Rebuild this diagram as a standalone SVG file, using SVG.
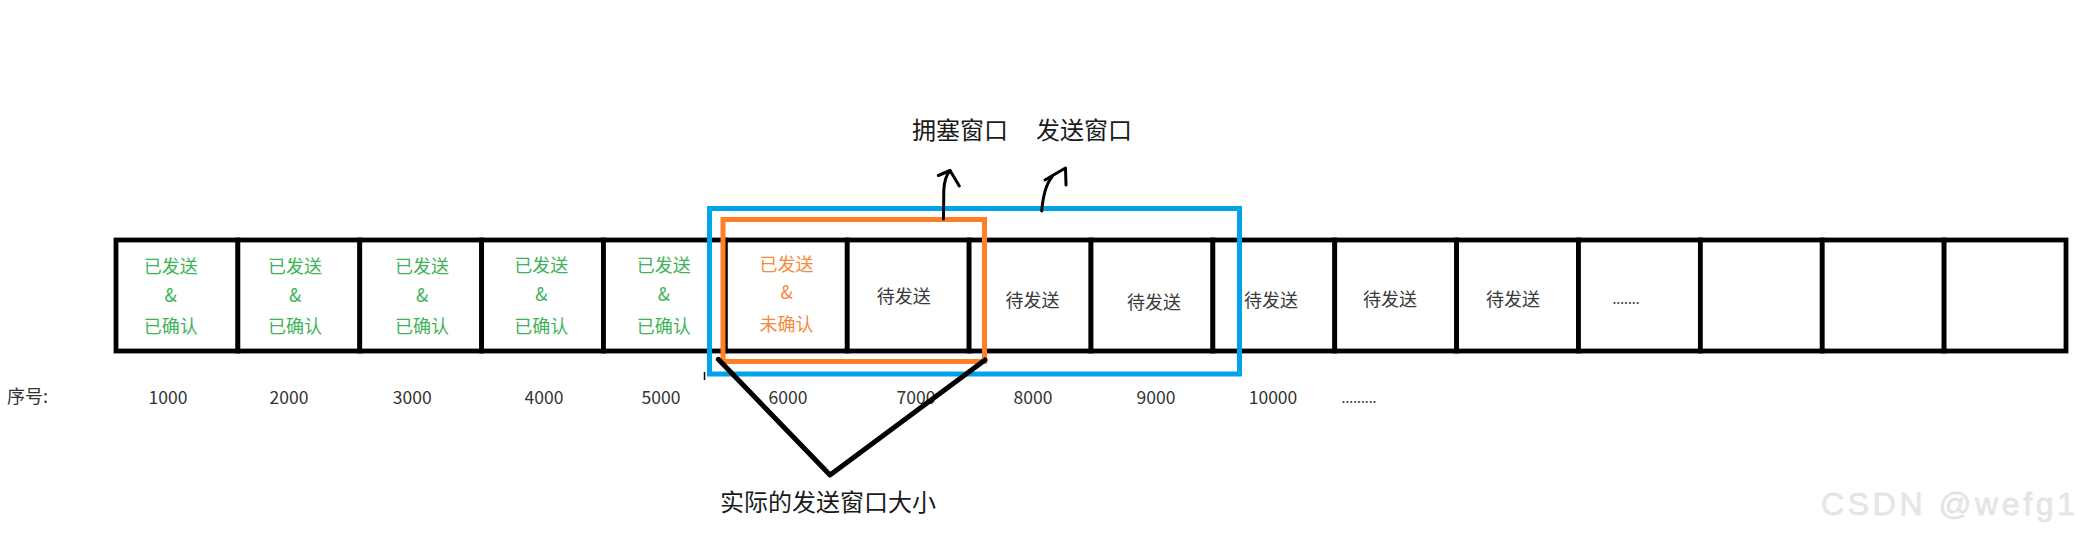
<svg xmlns="http://www.w3.org/2000/svg" width="2078" height="540" viewBox="0 0 2078 540">
<style>
.t{font-family:"Noto Sans CJK SC","Noto Sans",sans-serif;text-anchor:middle}
.g{fill:#3db45a;font-size:18px}
.o{fill:#f58a3c;font-size:18px}
.k{fill:#3a3a3a;font-size:18px}
.n{fill:#333;font-size:17.5px}
.d{fill:#333;font-size:14px}
.lb{fill:#1a1a1a;font-size:24px}
.cell{fill:#fff;stroke:#000;stroke-width:4.8}
.ink{fill:none;stroke:#000;stroke-linecap:round;stroke-linejoin:round}
.wm{font-family:"Liberation Sans",Arial,sans-serif;font-size:32px;fill:#e8e8e8;stroke:#d2d2d2;stroke-width:0.35}
</style>
<rect width="2078" height="540" fill="#fff"/>

<g id="cells">
<g id="cell-1000"><rect class="cell" x="116" y="240" width="121.875" height="111"/>
<text class="t g"><tspan x="170.7" y="273">已发送</tspan><tspan x="170.7" y="302">&amp;</tspan><tspan x="170.7" y="333">已确认</tspan></text></g>
<g id="cell-2000"><rect class="cell" x="237.875" y="240" width="121.875" height="111"/>
<text class="t g"><tspan x="295" y="273">已发送</tspan><tspan x="295" y="302">&amp;</tspan><tspan x="295" y="333">已确认</tspan></text></g>
<g id="cell-3000"><rect class="cell" x="359.75" y="240" width="121.875" height="111"/>
<text class="t g"><tspan x="422" y="273">已发送</tspan><tspan x="422" y="302">&amp;</tspan><tspan x="422" y="333">已确认</tspan></text></g>
<g id="cell-4000"><rect class="cell" x="481.625" y="240" width="121.875" height="111"/>
<text class="t g"><tspan x="541.3" y="272">已发送</tspan><tspan x="541.3" y="301">&amp;</tspan><tspan x="541.3" y="333">已确认</tspan></text></g>
<g id="cell-5000"><rect class="cell" x="603.5" y="240" width="121.875" height="111"/>
<text class="t g"><tspan x="663.8" y="272">已发送</tspan><tspan x="663.8" y="301">&amp;</tspan><tspan x="663.8" y="333">已确认</tspan></text></g>
<g id="cell-6000"><rect class="cell" x="725.375" y="240" width="121.875" height="111"/>
<text class="t o"><tspan x="786.5" y="270.5">已发送</tspan><tspan x="786.5" y="299">&amp;</tspan><tspan x="786.5" y="330.5">未确认</tspan></text></g>
<g id="cell-7000"><rect class="cell" x="847.25" y="240" width="121.875" height="111"/>
<text class="t k" x="903.8" y="302.5">待发送</text></g>
<g id="cell-8000"><rect class="cell" x="969.125" y="240" width="121.875" height="111"/>
<text class="t k" x="1032.5" y="307">待发送</text></g>
<g id="cell-9000"><rect class="cell" x="1091" y="240" width="121.875" height="111"/>
<text class="t k" x="1154" y="308.5">待发送</text></g>
<g id="cell-10000"><rect class="cell" x="1212.875" y="240" width="121.875" height="111"/>
<text class="t k" x="1271" y="307">待发送</text></g>
<g id="cell-11"><rect class="cell" x="1334.75" y="240" width="121.875" height="111"/>
<text class="t k" x="1390" y="305.5">待发送</text></g>
<g id="cell-12"><rect class="cell" x="1456.625" y="240" width="121.875" height="111"/>
<text class="t k" x="1513" y="306">待发送</text></g>
<g id="cell-13"><rect class="cell" x="1578.5" y="240" width="121.875" height="111"/>
<text class="t d" x="1626" y="304">.......</text></g>
<g id="cell-14"><rect class="cell" x="1700.375" y="240" width="121.875" height="111"/></g>
<g id="cell-15"><rect class="cell" x="1822.25" y="240" width="121.875" height="111"/></g>
<g id="cell-16"><rect class="cell" x="1944.125" y="240" width="121.875" height="111"/></g>
</g>

<g id="seq-labels">
<text class="t" style="fill:#333;font-size:18px;text-anchor:start" x="7" y="403">序号:</text>
<text class="t n" x="168" y="403.5">1000</text>
<text class="t n" x="289" y="403.5">2000</text>
<text class="t n" x="412.3" y="403.5">3000</text>
<text class="t n" x="544" y="403.5">4000</text>
<text class="t n" x="661" y="403.5">5000</text>
<text class="t n" x="788" y="403.5">6000</text>
<text class="t n" x="916" y="403.5">7000</text>
<text class="t n" x="1033" y="403.5">8000</text>
<text class="t n" x="1156" y="403.5">9000</text>
<text class="t n" x="1273" y="403.5">10000</text>
<text class="t d" x="1359" y="402.5">.........</text>
</g>

<g id="send-window">
<rect x="709.5" y="208.5" width="530" height="165.5" fill="none" stroke="#00a2e8" stroke-width="5"/>
</g>
<g id="cong-window">
<rect x="723" y="219.5" width="261.5" height="142" fill="none" stroke="#ff7f27" stroke-width="5"/>
</g>

<g id="label-cong"><text class="t lb" x="960" y="138.5">拥塞窗口</text></g>
<g id="label-send"><text class="t lb" x="1084" y="138.5">发送窗口</text></g>
<g id="label-actual"><text class="t lb" x="828" y="510.5">实际的发送窗口大小</text></g>

<g id="watermark"><text class="wm" x="1821" y="515" textLength="254" lengthAdjust="spacing">CSDN @wefg1</text></g>

<g id="connectors">
<path class="ink" stroke-width="3" d="M943.5,219 L943.8,190 Q944.5,177 950,170.5"/>
<path class="ink" stroke-width="3" d="M938.3,175.5 L950,170.5 L959.3,186"/>
<path class="ink" stroke-width="3" d="M1041.7,211 C1043,196 1046,184 1052,177"/>
<path class="ink" stroke-width="3" d="M1045,180 L1062,170 L1065.5,168 L1066,185"/>
<path class="ink" stroke-width="5" stroke-linecap="butt" d="M718.3,359.3 L830,475 L985,360"/>
<line x1="704.5" y1="372" x2="704.5" y2="380" stroke="#000" stroke-width="1.5"/>
</g>
</svg>
